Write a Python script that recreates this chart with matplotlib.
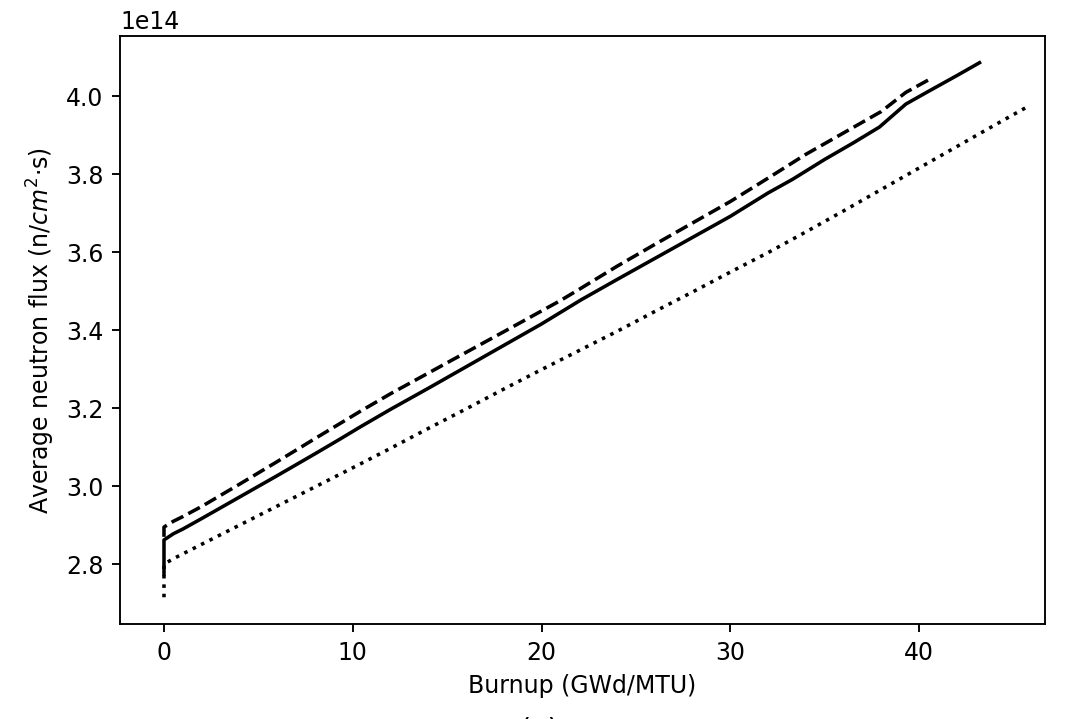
import numpy as np
import matplotlib
matplotlib.use("Agg")
from matplotlib import pyplot as plt

# burnup (GWd/MTU) and average flux (x1e14 n/cm2.s)
burnup_solid = [0, 0, 0.5, 1, 2, 4, 6, 8, 9.3, 10.4, 12, 14, 16, 18, 20, 22.1, 24, 26, 28, 30,
                32, 33.3, 35, 36.5, 37.9, 39.3, 40.4, 42, 43.2]
flux_solid = [2.775, 2.862, 2.878, 2.890, 2.917, 2.972, 3.027, 3.083, 3.120, 3.152, 3.197, 3.251,
              3.306, 3.361, 3.416, 3.478, 3.530, 3.584, 3.638, 3.692, 3.752, 3.787, 3.838, 3.880,
              3.921, 3.980, 4.010, 4.053, 4.086]

burnup_dashed = [0, 0, 0.5, 1, 2, 4, 6, 8, 10.4, 12, 14, 16, 18, 21, 22, 24, 26, 28, 30, 32,
                 34, 36, 38, 39.3, 40.5]
flux_dashed = [2.870, 2.895, 2.910, 2.922, 2.948, 3.005, 3.063, 3.122, 3.192, 3.237, 3.290,
               3.343, 3.396, 3.476, 3.505, 3.564, 3.620, 3.675, 3.730, 3.790, 3.851, 3.906,
               3.961, 4.010, 4.042]

burnup_dotted = [0, 0, 0.5, 2, 4, 6, 8, 10.4, 12, 14, 16, 18, 20, 22, 24, 26, 28, 30, 32, 34,
                 36, 38, 40, 42, 44, 45.7]
flux_dotted = [2.715, 2.800, 2.814, 2.851, 2.900, 2.949, 2.998, 3.057, 3.097, 3.148, 3.198,
               3.249, 3.299, 3.348, 3.397, 3.448, 3.498, 3.549, 3.599, 3.652, 3.706, 3.761,
               3.816, 3.871, 3.926, 3.972]

dpi = 170
fig = plt.figure(figsize=(1078 / dpi, 719 / dpi), dpi=dpi)
ax = fig.add_axes([120 / 1078, 1 - 624 / 719, (1045 - 120) / 1078, (624 - 36) / 719])

ax.plot(burnup_solid, np.array(flux_solid) * 1e14, color='black', linestyle='-', linewidth=1.5)
ax.plot(burnup_dashed, np.array(flux_dashed) * 1e14, color='black', linestyle='--', linewidth=1.5)
ax.plot(burnup_dotted, np.array(flux_dotted) * 1e14, color='black', linestyle=':', linewidth=1.5)

ax.set_xlim(-2.33, 46.67)
ax.set_xlabel('Burnup (GWd/MTU)')
ax.set_ylabel(r'Average neutron flux (n/$cm^2$·s)')

# caption under the plot, cut by the image border like in the original
fig.text(0.5, 1 - 716 / 719, '(a)', ha='center', va='top', fontsize=12)

fig.savefig('out.png', dpi=dpi)
